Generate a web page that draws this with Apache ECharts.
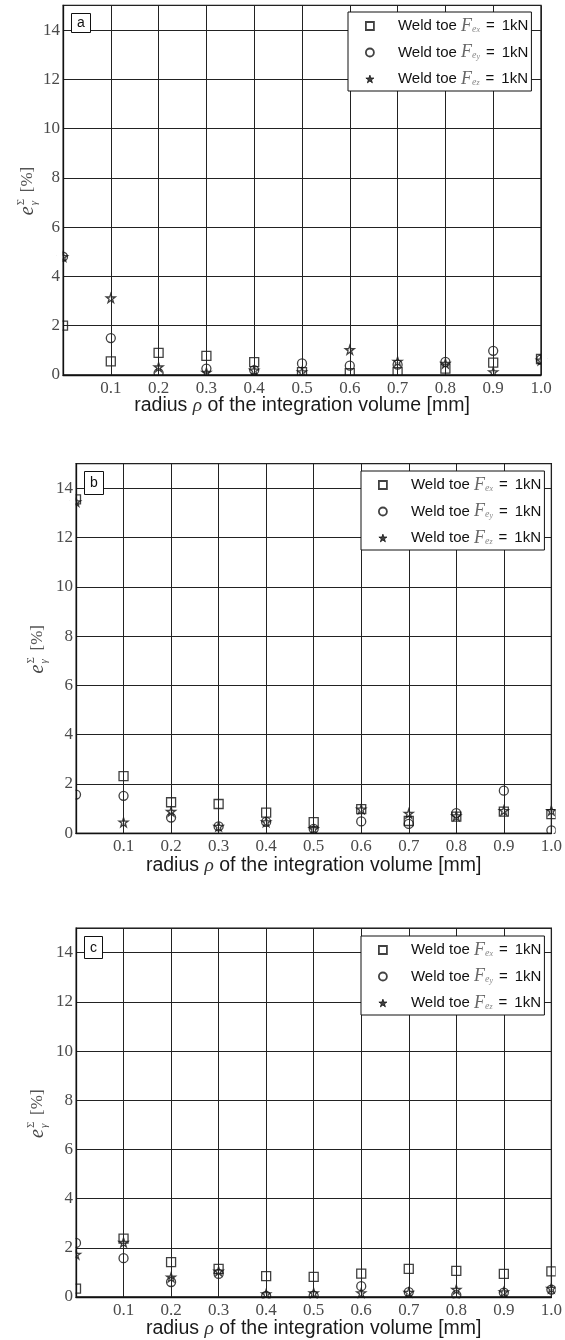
<!DOCTYPE html>
<html>
<head>
<meta charset="utf-8">
<script src="https://cdn.jsdelivr.net/npm/echarts@6/dist/echarts.min.js"></script>
<style>
html,body{margin:0;padding:0;background:#fff;}
#c{width:565px;height:1340px;}
</style>
</head>
<body>
<div id="c"></div>
<script>
// ---- data ----
var radius = [0, 0.1, 0.2, 0.3, 0.4, 0.5, 0.6, 0.7, 0.8, 0.9, 1.0];
var yTicks = [0, 2, 4, 6, 8, 10, 12, 14];
var panelLabels = ['a', 'b', 'c'];
// panel a
var aFex = [2.0, 0.55, 0.9, 0.78, 0.52, 0.12, 0.08, 0.12, 0.26, 0.5, 0.65];
var aFey = [4.8, 1.5, 0.08, 0.26, 0.2, 0.47, 0.38, 0.42, 0.53, 0.98, 0.62];
var aFez = [4.8, 3.12, 0.32, 0.1, 0.19, 0.12, 1.02, 0.55, 0.47, 0.12, 0.6];
// panel b
var bFex = [13.55, 2.32, 1.26, 1.19, 0.84, 0.45, 0.98, 0.5, 0.68, 0.88, 0.78];
var bFey = [1.57, 1.52, 0.64, 0.28, 0.46, 0.18, 0.48, 0.38, 0.82, 1.73, 0.12];
var bFez = [13.45, 0.45, 0.88, 0.28, 0.46, 0.18, 0.98, 0.8, 0.7, 0.92, 0.92];
// panel c
var cFex = [0.34, 2.37, 1.42, 1.14, 0.85, 0.82, 0.95, 1.14, 1.06, 0.94, 1.04];
var cFey = [2.2, 1.58, 0.61, 0.94, 0.04, 0.05, 0.44, 0.2, 0.08, 0.18, 0.3];
var cFez = [1.73, 2.22, 0.8, 1.05, 0.12, 0.16, 0.16, 0.18, 0.3, 0.2, 0.35];

var panels = [
  {ex: aFex, ey: aFey, ez: aFez},
  {ex: bFex, ey: bFey, ez: bFez},
  {ex: cFex, ey: cFey, ez: cFez}
];

// ---- layout ----
var grids = [
  {left: 63, top: 5.4, width: 478, height: 369.6},
  {left: 76, top: 463.7, width: 479, height: 369.6},
  {left: 76, top: 928.1, width: 479, height: 369.6}
];
var legendPos = [
  {left: 348, top: 12},
  {left: 361, top: 471},
  {left: 361, top: 936}
];
var titlePos = [
  {left: 71, top: 13, padding: [3, 6, 3, 6]},
  {left: 84, top: 471, padding: [5, 6, 5, 6]},
  {left: 84, top: 936, padding: [5, 6, 4, 6]}
];
var yTitleX = [28, 38, 38];
var xNameGap = [20.5, 22.5, 22];

var starPath = 'path://M50,2 L61,36 L97,36 L68,57 L79,92 L50,71 L21,92 L32,57 L3,36 L39,36 Z';
var serif = 'Liberation Serif';
var sans = 'Liberation Sans';

var option = {
  animation: false,
  backgroundColor: '#fff',
  grid: [], xAxis: [], yAxis: [], series: [], legend: [], title: [], graphic: []
};

var subNames = {ex: 'x', ey: 'y', ez: 'z'};
var symbols = {ex: 'rect', ey: 'circle', ez: starPath};
var sizes = {ex: 9, ey: 9, ez: 9};

panels.forEach(function (p, i) {
  var g = grids[i];
  option.grid.push({
    left: g.left, top: g.top, width: g.width, height: g.height,
    show: true, borderColor: '#111', borderWidth: 1.3, backgroundColor: 'transparent'
  });
  option.xAxis.push({
    type: 'value', gridIndex: i, min: 0, max: 1, interval: 0.1, z: 3,
    name: '{t|radius }{r|ρ}{t| of the integration volume [mm]}',
    nameLocation: 'middle', nameGap: xNameGap[i], nameMoveOverlap: false,
    nameTextStyle: {
      rich: {
        t: {fontFamily: sans, fontSize: 19.5, color: '#1a1a1a'},
        r: {fontFamily: serif, fontStyle: 'italic', fontSize: 19.5, color: '#333'}
      }
    },
    axisLine: {show: true, lineStyle: {color: '#111', width: 1.3}},
    axisTick: {show: false},
    axisLabel: {
      showMinLabel: false, margin: 5,
      fontFamily: serif, fontSize: 17, color: '#4a4a4a',
      formatter: function (v) { return v.toFixed(1); }
    },
    splitLine: {show: true, lineStyle: {color: '#222', width: 1}}
  });
  option.yAxis.push({
    type: 'value', gridIndex: i, min: 0, max: 15, interval: 2, z: 3,
    axisLine: {show: true, lineStyle: {color: '#111', width: 1.3}},
    axisTick: {show: false},
    axisLabel: {
      showMaxLabel: false, margin: 3,
      fontFamily: serif, fontSize: 17, color: '#4a4a4a',
      formatter: function (v) { return yTicks.indexOf(v) >= 0 ? String(v) : ''; }
    },
    splitLine: {show: true, lineStyle: {color: '#222', width: 1}}
  });

  var legendData = [];
  ['ex', 'ey', 'ez'].forEach(function (k) {
    var name = panelLabels[i] + '_' + k;
    option.series.push({
      type: 'scatter', name: name, xAxisIndex: i, yAxisIndex: i,
      symbol: symbols[k], symbolSize: sizes[k],
      clip: true,
      itemStyle: {color: 'rgba(0,0,0,0)', borderColor: '#111', borderWidth: 1.3},
      data: radius.map(function (x, j) { return [x, p[k][j]]; }),
      z: 1
    });
    legendData.push({
      name: name,
      icon: symbols[k],
      itemStyle: k === 'ez'
        ? {color: '#111', borderColor: '#111', borderWidth: 1}
        : {color: 'rgba(0,0,0,0)', borderColor: '#111', borderWidth: 1.8}
    });
  });

  option.legend.push({
    orient: 'vertical', z: 5,
    left: legendPos[i].left, top: legendPos[i].top,
    padding: [5, 3, 3, 17],
    itemWidth: 8, itemHeight: 8, itemGap: 8.5,
    backgroundColor: '#fff', borderColor: '#111', borderWidth: 1,
    selectedMode: false,
    data: legendData,
    formatter: function (name) {
      var k = name.split('_')[1];
      return '{sp| }{w|Weld toe }{F|F}{e|e}{s|' + subNames[k] + '}{g1| }{w|=}{g2| }{w|1kN}';
    },
    textStyle: {
      lineHeight: 16,
      rich: {
        sp: {width: 19, lineHeight: 16},
        g1: {width: 6, lineHeight: 16},
        g2: {width: 7, lineHeight: 16},
        w: {fontFamily: sans, fontSize: 15, color: '#111', lineHeight: 16},
        F: {fontFamily: serif, fontStyle: 'italic', fontSize: 18, color: '#666', lineHeight: 16},
        e: {fontFamily: serif, fontStyle: 'italic', fontSize: 10, color: '#888', verticalAlign: 'bottom', lineHeight: 12},
        s: {fontFamily: serif, fontStyle: 'italic', fontSize: 8, color: '#888', verticalAlign: 'bottom', lineHeight: 10}
      }
    }
  });

  option.title.push({
    text: panelLabels[i], z: 6,
    left: titlePos[i].left, top: titlePos[i].top,
    padding: titlePos[i].padding,
    backgroundColor: '#fff', borderColor: '#111', borderWidth: 1,
    textStyle: {fontFamily: sans, fontSize: 14, fontWeight: 'normal', color: '#111'}
  });

  var cy = g.top + g.height / 2;
  option.graphic.push({
    type: 'group', x: yTitleX[i], y: cy, rotation: Math.PI / 2,
    children: [
      {type: 'text', x: -25, y: 0, style: {text: 'e', font: 'italic 20px "Liberation Serif"', fill: '#444', verticalAlign: 'middle', align: 'left'}},
      {type: 'text', x: -15, y: -7, style: {text: 'Σ', font: '11px "Liberation Serif"', fill: '#555', verticalAlign: 'middle', align: 'left'}},
      {type: 'text', x: -15, y: 6, style: {text: 'γ', font: 'italic 11px "Liberation Serif"', fill: '#555', verticalAlign: 'middle', align: 'left'}},
      {type: 'text', x: -2, y: 0, style: {text: '[%]', font: '17px "Liberation Serif"', fill: '#555', verticalAlign: 'middle', align: 'left'}}
    ]
  });
  // white masks (between markers and axes) so markers on the frame are cut at the plot edge
  var m = 0.7, w = 5.5;
  var bottom = g.top + g.height, right = g.left + g.width;
  option.graphic.push(
    {type: 'rect', z: 2, silent: true, shape: {x: g.left - m - w, y: g.top, width: w, height: g.height + 7}, style: {fill: '#fff'}},
    {type: 'rect', z: 2, silent: true, shape: {x: right + m, y: g.top, width: w, height: g.height + 7}, style: {fill: '#fff'}},
    {type: 'rect', z: 2, silent: true, shape: {x: g.left - 7, y: bottom + m, width: g.width + 14, height: w}, style: {fill: '#fff'}}
  );
});

var chart = echarts.init(document.getElementById('c'), null, {renderer: 'canvas'});
chart.setOption(option);
</script>
</body>
</html>
